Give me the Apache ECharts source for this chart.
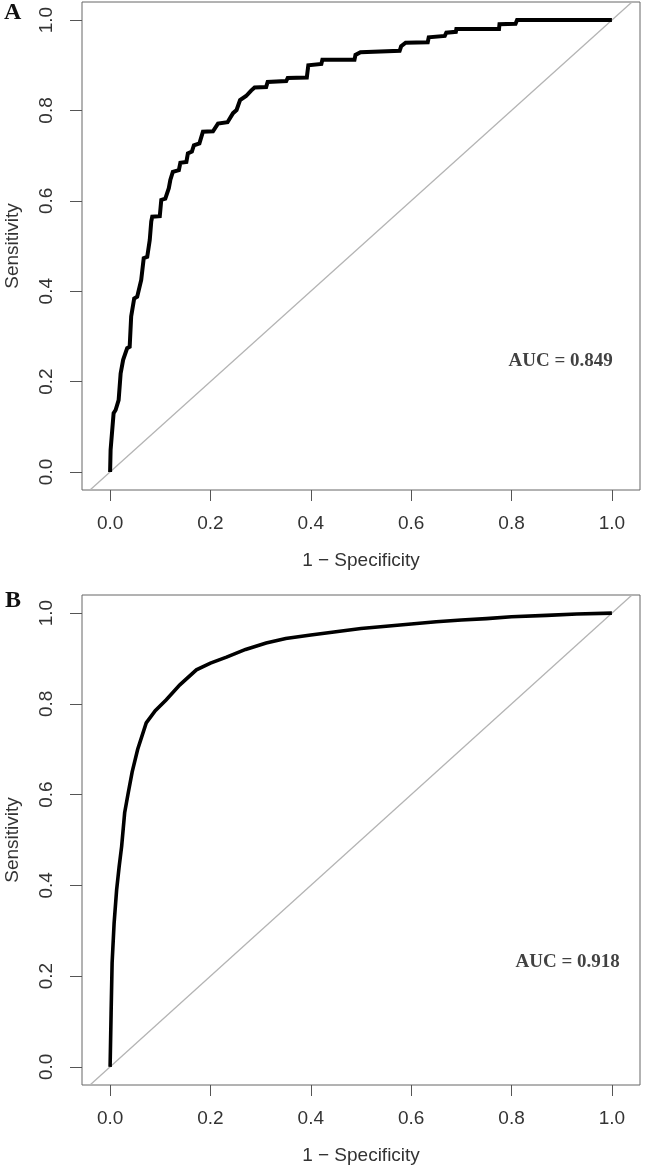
<!DOCTYPE html>
<html>
<head>
<meta charset="utf-8">
<script src="https://cdn.jsdelivr.net/npm/echarts@6/dist/echarts.min.js"></script>
<style>
    html, body { margin: 0; padding: 0; background: #fff; }
    #roc { width: 645px; height: 1170px; }
</style>
</head>
<body>
<div id="roc"></div>

<script type="text/javascript">
    // panel A - step ROC (1 - specificity, sensitivity)
    var rocA_fpr = [0, 0.001, 0.007, 0.011, 0.017, 0.021, 0.026, 0.034, 0.039, 0.042, 0.048, 0.054, 0.062, 0.067, 0.074,
        0.079, 0.082, 0.084, 0.099, 0.102, 0.110, 0.117, 0.120, 0.125, 0.137, 0.140, 0.152, 0.155, 0.163, 0.167,
        0.178, 0.185, 0.205, 0.215, 0.234, 0.245, 0.252, 0.259, 0.271, 0.281, 0.288, 0.311, 0.314, 0.351, 0.354,
        0.392, 0.395, 0.421, 0.423, 0.487, 0.489, 0.499, 0.577, 0.580, 0.589, 0.633, 0.635, 0.667, 0.670, 0.689,
        0.690, 0.775, 0.776, 0.808, 0.811, 1.0];
    var rocA_tpr = [0, 0.049, 0.130, 0.137, 0.159, 0.218, 0.248, 0.274, 0.277, 0.344, 0.384, 0.388, 0.425, 0.473, 0.476,
        0.513, 0.554, 0.565, 0.566, 0.602, 0.605, 0.628, 0.646, 0.664, 0.668, 0.684, 0.686, 0.705, 0.709, 0.723,
        0.727, 0.753, 0.754, 0.771, 0.774, 0.794, 0.801, 0.823, 0.832, 0.844, 0.851, 0.852, 0.863, 0.865, 0.872,
        0.873, 0.900, 0.903, 0.912, 0.912, 0.923, 0.929, 0.932, 0.942, 0.950, 0.951, 0.962, 0.965, 0.972, 0.974,
        0.980, 0.980, 0.991, 0.992, 1.0, 1.0];

    // panel B - smooth ROC
    var rocB_fpr = [0, 0.002, 0.004, 0.008, 0.013, 0.018, 0.023, 0.029, 0.036, 0.044, 0.055, 0.072, 0.090, 0.112, 0.139,
        0.172, 0.200, 0.232, 0.270, 0.311, 0.350, 0.400, 0.450, 0.500, 0.550, 0.600, 0.650, 0.700, 0.750, 0.800,
        0.870, 0.930, 1.0];
    var rocB_tpr = [0, 0.118, 0.229, 0.317, 0.390, 0.441, 0.486, 0.560, 0.603, 0.650, 0.700, 0.758, 0.785, 0.809, 0.842,
        0.875, 0.890, 0.903, 0.920, 0.934, 0.944, 0.952, 0.959, 0.966, 0.971, 0.976, 0.981, 0.985, 0.988, 0.992,
        0.995, 0.998, 1.0];

    var diagX = [-0.04, 1.04];
    var tickValues = [0, 0.2, 0.4, 0.6, 0.8, 1.0];
    var panelNames = ['A', 'B'];
    var aucLabels = ['AUC = 0.849', 'AUC = 0.918'];
    var aucPos = [[0.898, 0.245], [0.912, 0.230]];

    function pairs(xs, ys) {
        var out = [];
        for (var i = 0; i < xs.length; i++) out.push([xs[i], ys[i]]);
        return out;
    }

    var labelFont = {fontFamily: 'Liberation Sans', fontSize: 19, color: '#333'};

    function xAxisFor(i) {
        return {
            type: 'value', gridIndex: i, min: -0.056, max: 1.056,
            name: '1 \u2212 Specificity', nameLocation: 'middle', nameGap: 61,
            nameTextStyle: labelFont,
            axisLine: {show: false, onZero: false},
            axisTick: {show: true, inside: false, length: 11, customValues: tickValues, lineStyle: {color: '#555', width: 1}},
            axisLabel: {margin: 24, customValues: tickValues, formatter: function (v) { return v.toFixed(1); },
                fontFamily: labelFont.fontFamily, fontSize: labelFont.fontSize, color: labelFont.color},
            splitLine: {show: false}
        };
    }

    function yAxisFor(i) {
        return {
            type: 'value', gridIndex: i, min: -0.04, max: 1.04,
            name: 'Sensitivity', nameLocation: 'middle', nameGap: 60, nameRotate: 90,
            nameTextStyle: labelFont,
            axisLine: {show: false, onZero: false},
            axisTick: {show: true, inside: false, length: 12, customValues: tickValues, lineStyle: {color: '#555', width: 1}},
            axisLabel: {margin: 26, rotate: 90, customValues: tickValues, formatter: function (v) { return v.toFixed(1); },
                fontFamily: labelFont.fontFamily, fontSize: labelFont.fontSize, color: labelFont.color},
            splitLine: {show: false}
        };
    }

    var series = [];
    var curves = [pairs(rocA_fpr, rocA_tpr), pairs(rocB_fpr, rocB_tpr)];
    for (var i = 0; i < 2; i++) {
        series.push({
            name: 'chance', type: 'line', xAxisIndex: i, yAxisIndex: i,
            data: pairs(diagX, diagX), showSymbol: false, silent: true,
            lineStyle: {color: '#b4b4b4', width: 1.3}
        });
        series.push({
            name: 'ROC ' + panelNames[i], type: 'line', xAxisIndex: i, yAxisIndex: i,
            data: curves[i], showSymbol: false, clip: true,
            lineStyle: {color: '#000', width: i === 0 ? 4 : 3.6, join: 'miter'}
        });
        series.push({
            name: 'AUC ' + panelNames[i], type: 'scatter', xAxisIndex: i, yAxisIndex: i,
            data: [aucPos[i]], symbolSize: 0, silent: true,
            label: {
                show: true, position: 'inside', formatter: aucLabels[i],
                fontFamily: 'Liberation Serif', fontWeight: 'bold', fontSize: 19, color: '#111'
            }
        });
    }

    var myChart = echarts.init(document.getElementById('roc'));
    myChart.setOption({
        backgroundColor: '#fff',
        animation: false,
        title: [
            {text: panelNames[0], left: 4, top: 1, padding: 0,
                textStyle: {fontFamily: 'Liberation Serif', fontWeight: 'bold', fontSize: 24, color: '#111'}},
            {text: panelNames[1], left: 5, top: 589, padding: 0,
                textStyle: {fontFamily: 'Liberation Serif', fontWeight: 'bold', fontSize: 24, color: '#111'}}
        ],
        grid: [
            {left: 82, top: 2, width: 558, height: 488, show: true, borderColor: '#666', borderWidth: 1, outerBoundsMode: 'none'},
            {left: 82, top: 595, width: 558, height: 490, show: true, borderColor: '#666', borderWidth: 1, outerBoundsMode: 'none'}
        ],
        xAxis: [xAxisFor(0), xAxisFor(1)],
        yAxis: [yAxisFor(0), yAxisFor(1)],
        series: series
    });
    window.onresize = function () {
        myChart.resize();
    };
</script>
</body>
</html>
